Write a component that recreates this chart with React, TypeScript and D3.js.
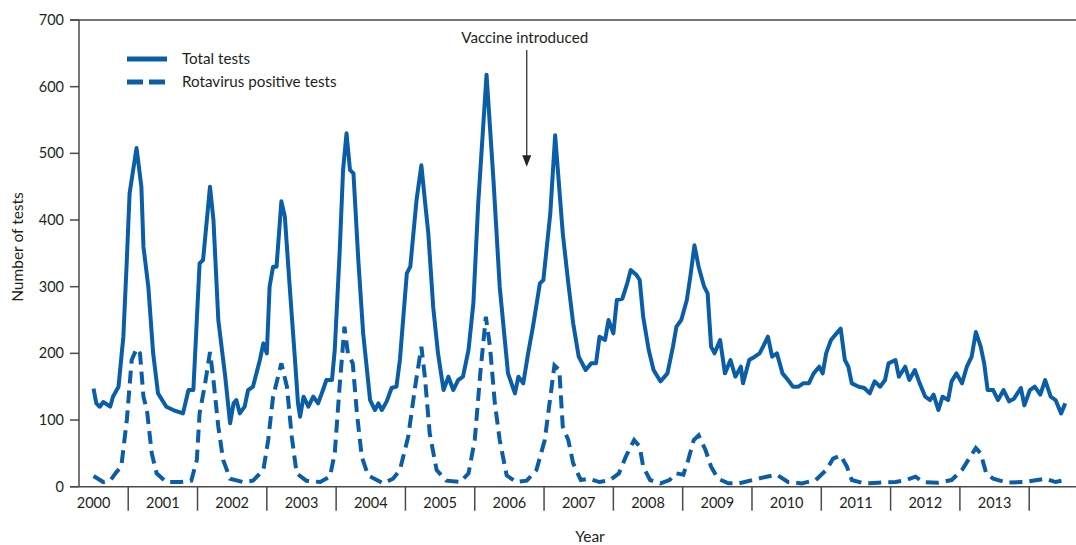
import * as d3 from "d3";

// weekly series (fractional year, count)
const totalYears = [
  2000.5, 2000.54, 2000.59, 2000.64, 2000.74, 2000.78, 2000.86, 2000.93, 2000.98, 2001.02,
  2001.12, 2001.19, 2001.22, 2001.29, 2001.36, 2001.43, 2001.55, 2001.65, 2001.79, 2001.87,
  2001.94, 2001.99, 2002.03, 2002.08, 2002.18, 2002.23, 2002.3, 2002.4, 2002.47, 2002.52,
  2002.56, 2002.61, 2002.68, 2002.73, 2002.8, 2002.9, 2002.95, 2003.0, 2003.04, 2003.09,
  2003.14, 2003.21, 2003.26, 2003.33, 2003.41, 2003.45, 2003.48, 2003.53, 2003.6, 2003.67,
  2003.74, 2003.81, 2003.86, 2003.94, 2003.98, 2004.05, 2004.1, 2004.15, 2004.2, 2004.25,
  2004.32, 2004.39, 2004.49, 2004.56, 2004.61, 2004.66, 2004.73, 2004.8, 2004.87, 2004.92,
  2005.02, 2005.07, 2005.16, 2005.23, 2005.28, 2005.33, 2005.4, 2005.47, 2005.55, 2005.62,
  2005.69, 2005.76, 2005.83, 2005.91, 2005.98, 2006.05, 2006.17, 2006.27, 2006.36, 2006.48,
  2006.58, 2006.63, 2006.7, 2006.77, 2006.84, 2006.94, 2006.99, 2007.09, 2007.16, 2007.27,
  2007.35, 2007.42, 2007.5, 2007.6, 2007.68, 2007.75, 2007.8, 2007.88, 2007.93, 2008.0,
  2008.05, 2008.13, 2008.2, 2008.25, 2008.33, 2008.38, 2008.43, 2008.51, 2008.58, 2008.68,
  2008.78, 2008.86, 2008.91, 2008.98, 2009.06, 2009.11, 2009.17, 2009.23, 2009.31, 2009.36,
  2009.41, 2009.46, 2009.54, 2009.61, 2009.69, 2009.76, 2009.84, 2009.87, 2009.96, 2010.04,
  2010.11, 2010.16, 2010.23, 2010.29, 2010.36, 2010.44, 2010.52, 2010.59, 2010.67, 2010.74,
  2010.82, 2010.89, 2010.97, 2011.02, 2011.07, 2011.14, 2011.22, 2011.28, 2011.34, 2011.39,
  2011.44, 2011.54, 2011.62, 2011.7, 2011.77, 2011.85, 2011.92, 2011.97, 2012.07, 2012.12,
  2012.21, 2012.27, 2012.35, 2012.42, 2012.5, 2012.57, 2012.62, 2012.69, 2012.75, 2012.83,
  2012.88, 2012.95, 2013.03, 2013.1, 2013.17, 2013.23, 2013.3, 2013.35, 2013.4, 2013.48,
  2013.55, 2013.63, 2013.71, 2013.78, 2013.88, 2013.93, 2014.01, 2014.08, 2014.16, 2014.23,
  2014.31, 2014.38, 2014.46, 2014.52,
];
const totalCounts = [
  147, 125, 120, 127, 120, 135, 150, 225, 340, 440,
  508, 450, 360, 300, 200, 140, 120, 115, 110, 145,
  145, 250, 335, 340, 450, 400, 250, 165, 95, 125,
  130, 110, 120, 145, 150, 190, 215, 200, 300, 330,
  330, 428, 405, 300, 185, 125, 105, 135, 120, 135,
  125, 145, 160, 160, 205, 350, 475, 530, 475, 470,
  340, 230, 130, 115, 125, 115, 128, 148, 150, 190,
  320, 330, 430, 482, 430, 380, 270, 200, 145, 165,
  145, 160, 165, 205, 275, 425, 618, 460, 300, 170,
  140, 165, 155, 200, 240, 305, 310, 410, 527, 380,
  305, 245, 195, 175, 185, 185, 225, 220, 250, 230,
  280, 282, 305, 325, 318, 310, 255, 205, 175, 158,
  170, 210, 240, 250, 280, 315, 362, 330, 300, 290,
  210, 200, 220, 170, 190, 165, 180, 155, 190, 195,
  200, 210, 225, 195, 200, 170, 160, 150, 150, 155,
  155, 170, 180, 170, 200, 220, 230, 237, 190, 180,
  155, 150, 148, 140, 158, 150, 160, 185, 190, 165,
  180, 160, 175, 155, 135, 130, 138, 115, 135, 130,
  158, 170, 155, 180, 195, 232, 210, 185, 145, 145,
  130, 145, 128, 132, 148, 122, 145, 150, 138, 160,
  135, 130, 110, 125,
];

const positiveYears = [
  2000.5, 2000.64, 2000.74, 2000.83, 2000.9, 2000.98, 2001.05, 2001.12, 2001.17, 2001.22,
  2001.27, 2001.34, 2001.41, 2001.55, 2001.75, 2001.91, 2001.99, 2002.03, 2002.11, 2002.18,
  2002.23, 2002.3, 2002.37, 2002.47, 2002.66, 2002.8, 2002.95, 2003.02, 2003.09, 2003.21,
  2003.29, 2003.36, 2003.43, 2003.57, 2003.77, 2003.91, 2003.98, 2004.05, 2004.12, 2004.17,
  2004.24, 2004.3, 2004.37, 2004.46, 2004.68, 2004.82, 2004.92, 2005.04, 2005.14, 2005.23,
  2005.28, 2005.35, 2005.45, 2005.59, 2005.79, 2005.91, 2006.0, 2006.08, 2006.16, 2006.22,
  2006.29, 2006.36, 2006.46, 2006.6, 2006.75, 2006.89, 2007.01, 2007.11, 2007.15, 2007.22,
  2007.27, 2007.35, 2007.42, 2007.53, 2007.65, 2007.8, 2007.95, 2008.08, 2008.18, 2008.3,
  2008.38, 2008.43, 2008.53, 2008.68, 2008.81, 2008.91, 2009.01, 2009.08, 2009.16, 2009.23,
  2009.33, 2009.41, 2009.51, 2009.66, 2009.81, 2010.01, 2010.21, 2010.36, 2010.52, 2010.72,
  2010.92, 2011.07, 2011.17, 2011.28, 2011.37, 2011.44, 2011.62, 2011.82, 2012.07, 2012.22,
  2012.36, 2012.47, 2012.68, 2012.88, 2013.03, 2013.15, 2013.23, 2013.3, 2013.38, 2013.48,
  2013.68, 2013.93, 2014.23, 2014.38, 2014.51,
];
const positiveCounts = [
  16, 7, 9, 22, 30, 100, 190, 207, 200, 135,
  115, 50, 20, 7, 7, 9, 40, 110, 155, 202,
  160, 90, 40, 12, 7, 9, 25, 70, 135, 185,
  150, 75, 20, 9, 7, 15, 50, 150, 240, 200,
  185, 110, 45, 17, 5, 12, 25, 75, 150, 210,
  165, 80, 25, 9, 7, 20, 70, 170, 255, 210,
  125, 70, 17, 7, 9, 25, 70, 150, 182, 175,
  90, 70, 35, 10, 12, 7, 10, 20, 45, 70,
  60, 30, 10, 5, 10, 20, 18, 40, 70, 77,
  55, 30, 12, 5, 5, 10, 15, 18, 7, 5,
  10, 25, 42, 47, 30, 10, 5, 6, 7, 10,
  15, 7, 6, 10, 25, 45, 58, 50, 20, 12,
  6, 7, 12, 7, 10,
];

const yTicks = [0, 100, 200, 300, 400, 500, 600, 700];
const yearBoundaries = [2001, 2002, 2003, 2004, 2005, 2006, 2007, 2008, 2009, 2010, 2011, 2012, 2013, 2014];
const yearLabels = [2000, 2001, 2002, 2003, 2004, 2005, 2006, 2007, 2008, 2009, 2010, 2011, 2012, 2013];
const vaccineYear = 2006.75;

const width = 1076;
const height = 545;
const blue = "#0a5ea8";
const ink = "#231f20";
const axisColor = "#4a4a4a";
const font = "Lato, 'Open Sans', sans-serif";

export default function App() {
  const x = d3.scaleLinear().domain([2000.29, 2014.675]).range([79, 1076]);
  const y = d3.scaleLinear().domain([0, 700]).range([486.7, 20]);

  const line = d3
    .line<[number, number]>()
    .x((d) => x(d[0]))
    .y((d) => y(d[1]));

  const total = totalYears.map((t, i) => [t, totalCounts[i]] as [number, number]);
  const positive = positiveYears.map((t, i) => [t, positiveCounts[i]] as [number, number]);

  const [x0, x1] = x.range();
  const y0 = y(0);

  return (
    <svg
      width={width}
      height={height}
      style={{ position: "absolute", left: 0, top: 0, background: "#fff" }}
      fontFamily={font}
    >
      {/* frame top + axes */}
      <line x1={70} x2={x1} y1={y(700)} y2={y(700)} stroke={axisColor} strokeWidth={1.5} />
      <line x1={x0} x2={x0} y1={y(700)} y2={y0} stroke={axisColor} strokeWidth={1.5} />
      <line x1={70} x2={x1} y1={y0} y2={y0} stroke={axisColor} strokeWidth={1.5} />

      {yTicks.map((t) => (
        <g key={t}>
          <line x1={70} x2={x0} y1={y(t)} y2={y(t)} stroke={axisColor} strokeWidth={1.5} />
          <text x={64} y={y(t)} dy="0.35em" textAnchor="end" fontSize={14.5} fill={ink}>
            {t}
          </text>
        </g>
      ))}

      {yearBoundaries.map((t) => (
        <line key={t} x1={x(t)} x2={x(t)} y1={y0} y2={y0 + 24} stroke={axisColor} strokeWidth={1.5} />
      ))}
      {yearLabels.map((t) => (
        <text key={t} x={x(t + 0.5)} y={y0 + 21} textAnchor="middle" fontSize={14.5} fill={ink}>
          {t}
        </text>
      ))}

      <text x={590} y={542} textAnchor="middle" fontSize={15.5} fill={ink}>
        Year
      </text>
      <text
        transform={`translate(23,247) rotate(-90)`}
        textAnchor="middle"
        fontSize={15.5}
        fill={ink}
      >
        Number of tests
      </text>

      {/* series */}
      <path d={line(positive) ?? ""} fill="none" stroke={blue} strokeWidth={4} strokeDasharray="13,7" />
      <path d={line(total) ?? ""} fill="none" stroke={blue} strokeWidth={4} strokeLinejoin="round" />

      {/* legend */}
      <line x1={127} x2={167} y1={59} y2={59} stroke={blue} strokeWidth={5} />
      <line x1={127} x2={167} y1={82} y2={82} stroke={blue} strokeWidth={5} strokeDasharray="16,6" />
      <text x={182} y={59} dy="0.35em" fontSize={15.2} fill={ink}>
        Total tests
      </text>
      <text x={182} y={82} dy="0.35em" fontSize={15.2} fill={ink}>
        Rotavirus positive tests
      </text>

      {/* vaccine annotation */}
      <text x={x(vaccineYear) - 2} y={y(673)} dy="0.35em" textAnchor="middle" fontSize={15.2} fill={ink}>
        Vaccine introduced
      </text>
      <line x1={x(vaccineYear)} x2={x(vaccineYear)} y1={y(655)} y2={y(490)} stroke="#333" strokeWidth={1.3} />
      <path
        d={`M${x(vaccineYear) - 4.5},${y(497)} L${x(vaccineYear) + 4.5},${y(497)} L${x(vaccineYear)},${y(480)} Z`}
        fill="#222"
      />
    </svg>
  );
}
